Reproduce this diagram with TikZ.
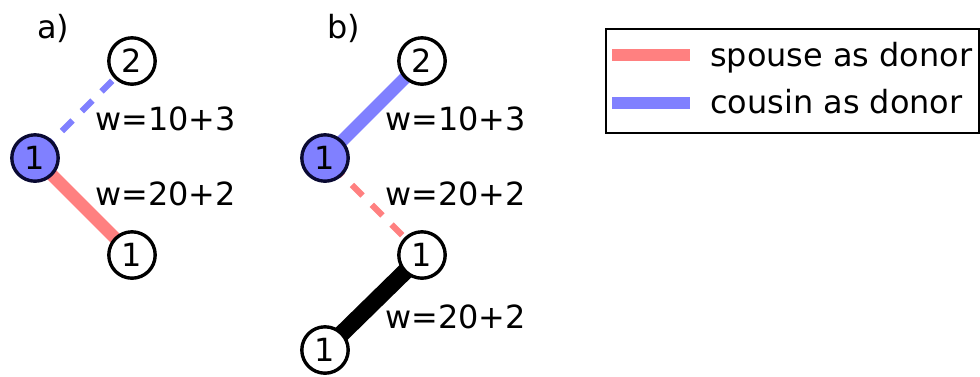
\documentclass[tikz,border=0pt]{standalone}
\usepackage{fontspec}
\setmainfont{DejaVu Sans}
\usetikzlibrary{positioning, backgrounds}
\definecolor{spousered}{RGB}{255,128,128}
\definecolor{cousinblue}{RGB}{128,128,255}
\definecolor{ringnavy}{RGB}{10,10,50}

\begin{document}
\begin{tikzpicture}[
    x=0.025cm, y=-0.025cm,
    font=\fontsize{22.7}{27}\selectfont,
    vertex/.style={draw, circle, line width=2.4pt, fill=white, inner sep=0pt, minimum size=33pt},
    donor/.style={vertex, fill=cousinblue, draw=ringnavy},
    weight/.style={anchor=base west, inner sep=0pt},
    link/.style={line width=9pt},
    maybe/.style={line width=4.3pt, dash pattern=on 10.67pt off 9.25pt}
]
    \useasboundingbox (0,0) rectangle (980,376);

    \node[weight] (tag-a) at (37,38) {a)};
    \node[vertex] (a-top) at (132,61) {2};
    \node[donor] (a-mid) at (35,158) {1};
    \node[vertex] (a-low) at (132,255) {1};
    \node[weight] (w-a1) at (95,130) {w=10+3};
    \node[weight] (w-a2) at (95,205) {w=20+2};

    \node[weight] (tag-b) at (327,38) {b)};
    \node[vertex] (b-top) at (422,61) {2};
    \node[donor] (b-mid) at (325,158) {1};
    \node[vertex] (b-low) at (422,255) {1};
    \node[vertex] (b-end) at (325,350) {1};
    \node[weight] (w-b1) at (385,130) {w=10+3};
    \node[weight] (w-b2) at (385,205) {w=20+2};
    \node[weight] (w-b3) at (385,328) {w=20+2};

    \begin{scope}[on background layer]
        \draw[maybe, cousinblue] (a-top.center) -- (a-mid.center);
        \draw[link, spousered] (a-mid.center) -- (a-low.center);
        \draw[link, cousinblue] (b-mid.center) -- (b-top.center);
        \draw[maybe, spousered] (b-low.center) -- (b-mid.center);
        \draw[line width=12pt] (b-low.center) -- (b-end.center);
    \end{scope}

    \node[draw, line width=1pt, inner sep=0pt, minimum width=9.325cm, minimum height=2.6cm] (legend) at (792.5,81) {};
    \coordinate (sp-l) at (612,55);
    \coordinate (sp-r) at (690,55);
    \coordinate (co-l) at (612,103);
    \coordinate (co-r) at (690,103);
    \draw[link, spousered] (sp-l) -- (sp-r);
    \draw[link, cousinblue] (co-l) -- (co-r);
    \node[weight] (spouse) at (710,66.7) {spouse as donor};
    \node[weight] (cousin) at (710,113.3) {cousin as donor};
\end{tikzpicture}
\end{document}
